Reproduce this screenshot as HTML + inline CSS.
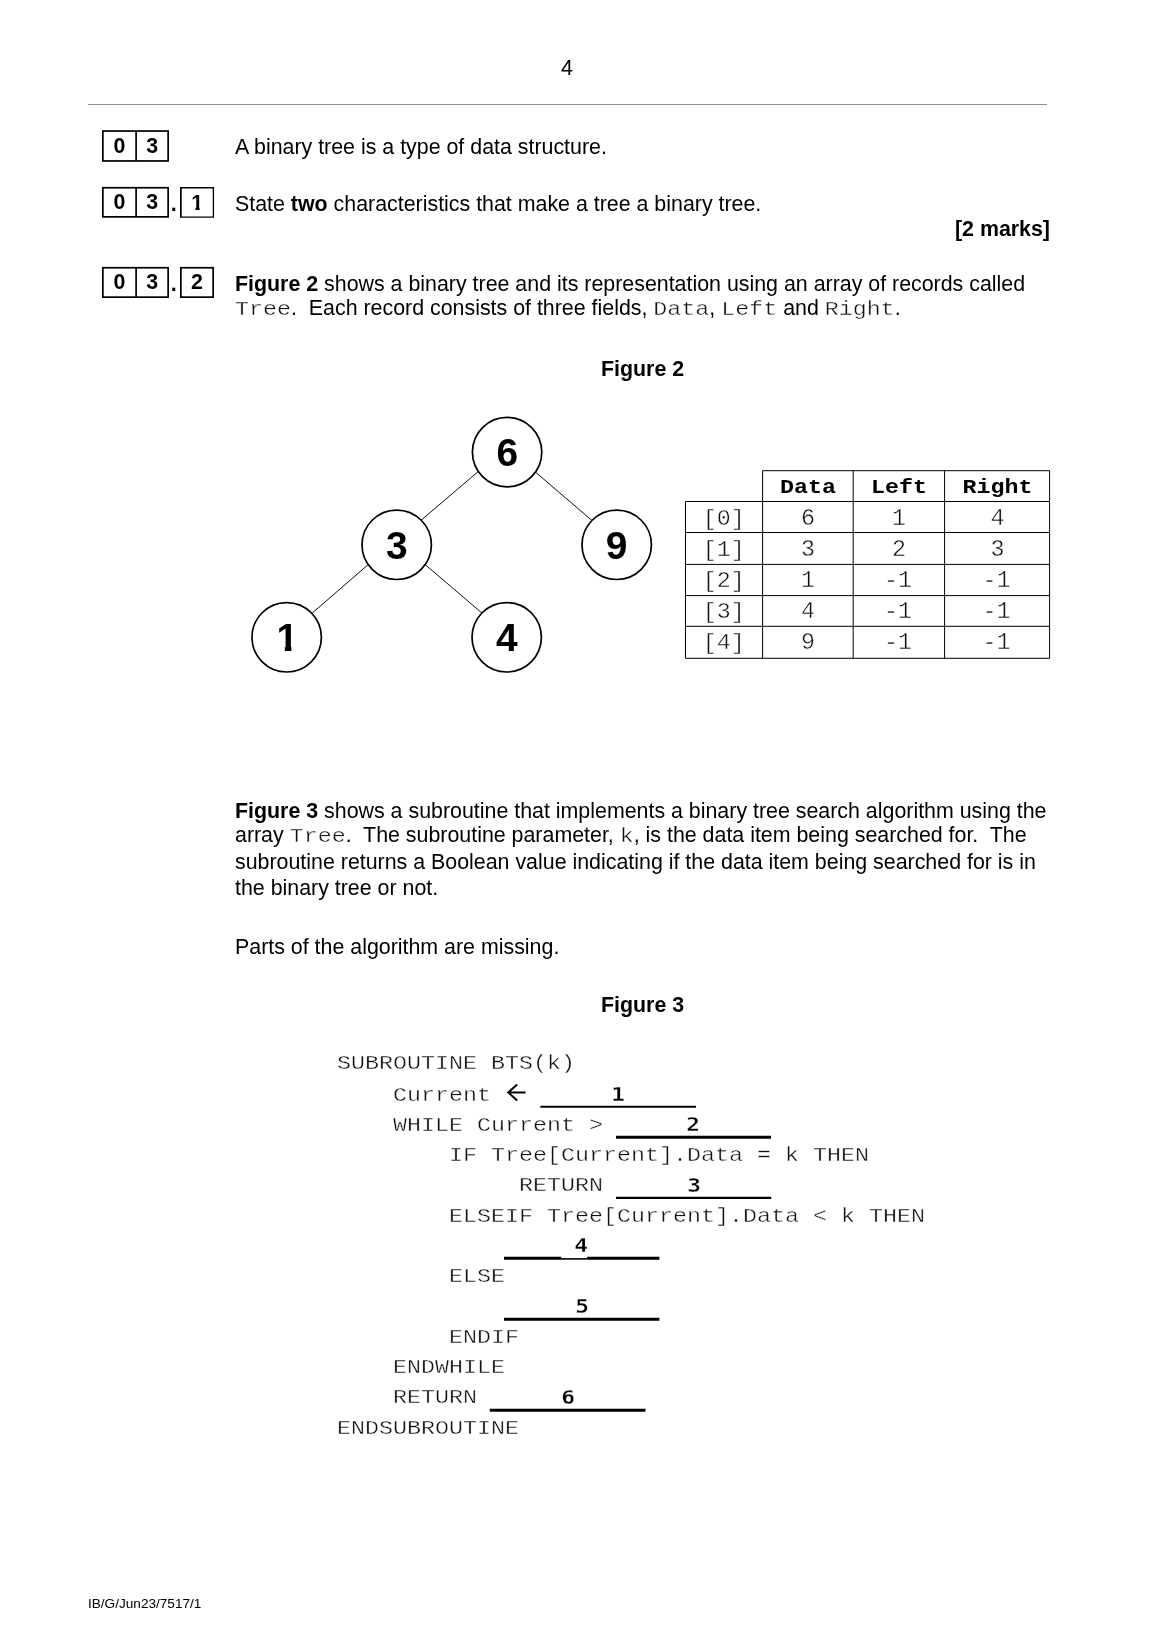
<!DOCTYPE html>
<html><head><meta charset="utf-8">
<style>
html,body{margin:0;padding:0;background:#fff;}
body{width:1158px;height:1638px;position:relative;overflow:hidden;font-family:"Liberation Sans",sans-serif;color:#000;}
.t{position:absolute;white-space:nowrap;font-size:21.39px;line-height:25px;}
.m{font-family:"Liberation Mono",monospace;font-size:23.33px;line-height:26.44px;color:#111;-webkit-text-stroke:.42px #fff;display:inline-block;transform:scaleY(.9);transform-origin:0 73.53%;vertical-align:baseline;}
.b{font-weight:bold;}
.box{position:absolute;font-weight:bold;font-size:21.39px;text-align:center;}
.box span{position:absolute;left:0;right:0;top:3.4px;line-height:25px;}
.cl{position:absolute;white-space:pre;font-family:"Liberation Mono",monospace;font-size:23.33px;line-height:26.44px;color:#111;-webkit-text-stroke:.42px #fff;transform:scaleY(.9);transform-origin:0 73.53%;}
.ul{position:absolute;height:0;border-top:2.6px solid #000;}
.n{position:absolute;font-family:"DejaVu Sans Mono","Liberation Mono",monospace;font-weight:bold;font-size:20.2px;line-height:20px;width:40px;text-align:center;transform:scaleX(1.13);-webkit-text-stroke:.32px #fff;}
.c{position:absolute;font-family:"Liberation Mono",monospace;font-size:23.33px;line-height:26.44px;color:#111;-webkit-text-stroke:.42px #fff;text-align:center;transform:scaleY(.9);transform-origin:0 73.53%;white-space:nowrap;}
.c.h{font-weight:bold;color:#000;-webkit-text-stroke:0;}
.c.u{transform:scaleY(.985);}
.c.i{transform:scaleY(.95);}
</style></head><body>
<div id="pg" style="position:absolute;left:0;top:0;width:1158px;height:1638px;will-change:transform;">
<div class="t" style="left:561px;top:56px;">4</div>
<div style="position:absolute;left:88px;top:104px;width:959px;height:1px;background:#8c8c8c;"></div>

<!-- question number boxes -->
<svg style="position:absolute;left:0;top:0;" width="260" height="320" viewBox="0 0 260 320">
<g stroke="#000" stroke-width="1.7" fill="none">
<rect x="102.85" y="131.05" width="65.3" height="29.9"/><line x1="136.1" y1="131" x2="136.1" y2="161"/>
<rect x="102.85" y="187.75" width="65.3" height="29.1"/><line x1="136.1" y1="187.7" x2="136.1" y2="216.9"/>
<path d="M213.4,187.75H180.85V217.1"/><path d="M213.4,186.9V217.1H180" stroke-width="1.35"/>
<rect x="102.85" y="267.75" width="65.3" height="29.4"/><line x1="136.1" y1="267.7" x2="136.1" y2="297.2"/>
<rect x="180.85" y="267.75" width="32.3" height="29.4"/>
</g>
<defs><clipPath id="k2"><rect x="185" y="190" width="25" height="17"/><rect x="195.4" y="206.5" width="4.2" height="5"/></clipPath></defs>
<text x="197.2" y="210.3" font-family="Liberation Sans, sans-serif" font-weight="bold" font-size="21.39" text-anchor="middle" clip-path="url(#k2)">1</text>
</svg>
<div class="box" style="left:102px;top:130.2px;width:34.9px;height:31.6px;"><span>0</span></div>
<div class="box" style="left:135.2px;top:130.2px;width:33.8px;height:31.6px;"><span>3</span></div>
<div class="t" style="left:235px;top:135px;">A binary tree is a type of data structure.</div>

<div class="box" style="left:102px;top:186.9px;width:34.9px;height:30.8px;"><span>0</span></div>
<div class="box" style="left:135.2px;top:186.9px;width:33.8px;height:30.8px;"><span>3</span></div>
<div class="t b" style="left:170.7px;top:192px;">.</div>
<div class="t" style="left:235px;top:192px;">State <b>two</b> characteristics that make a tree a binary tree.</div>
<div class="t b" style="right:108px;top:217px;">[2 marks]</div>

<div class="box" style="left:102px;top:266.9px;width:34.9px;height:31.1px;"><span>0</span></div>
<div class="box" style="left:135.2px;top:266.9px;width:33.8px;height:31.1px;"><span>3</span></div>
<div class="t b" style="left:170.7px;top:272px;">.</div>
<div class="box" style="left:180px;top:266.9px;width:34px;height:31.1px;"><span>2</span></div>
<div class="t" style="left:235px;top:272px;"><b>Figure 2</b> shows a binary tree and its representation using an array of records called</div>
<div class="t" style="left:235px;top:296px;"><span class="m">Tree</span>.&nbsp; Each record consists of three fields, <span class="m">Data</span>, <span class="m">Left</span> and <span class="m">Right</span>.</div>

<div class="t b" style="left:601px;top:357px;">Figure 2</div>

<!-- tree + table grid -->
<svg style="position:absolute;left:0;top:0;" width="1158" height="720" viewBox="0 0 1158 720">
<defs><clipPath id="k1"><rect x="270" y="615" width="40" height="31"/><rect x="284.8" y="645.5" width="6.6" height="8"/></clipPath></defs>
<g stroke="#000" stroke-width="0.95" fill="none">
<line x1="480" y1="470" x2="420" y2="521.2"/>
<line x1="534" y1="470.8" x2="594" y2="522.3"/>
<line x1="370" y1="563" x2="310" y2="615"/>
<line x1="424" y1="563.6" x2="484" y2="614.8"/>
</g>
<g stroke="#000" stroke-width="1.7" fill="#fff">
<circle cx="507.1" cy="452.1" r="34.7"/>
<circle cx="396.7" cy="544.8" r="34.7"/>
<circle cx="616.7" cy="544.8" r="34.7"/>
<circle cx="286.7" cy="637.3" r="34.7"/>
<circle cx="506.7" cy="637.3" r="34.7"/>
</g>
<g font-family="Liberation Sans, sans-serif" font-weight="bold" font-size="38.9" text-anchor="middle" fill="#000">
<text x="507.3" y="466">6</text>
<text x="396.9" y="558.7">3</text>
<text x="616.6" y="558.7">9</text>
<text x="287.3" y="651.2" clip-path="url(#k1)">1</text>
<text x="506.7" y="651.2">4</text>
</g>
<g stroke="#000" stroke-width="1" fill="none">
<path d="M762.6,470.7H1049.6 M685.5,501.5H1049.6 M685.5,532.5H1049.6 M685.5,564.4H1049.6 M685.5,595.6H1049.6 M685.5,626.3H1049.6 M685.5,658.3H1049.6"/>
<path d="M685.5,501.5V658.3 M762.6,470.7V658.3 M853.2,470.7V658.3 M944.6,470.7V658.3 M1049.6,470.7V658.3"/>
</g>
</svg>

<!-- table text -->
<div class="c h" style="left:763px;width:90px;top:473.9px;">Data</div>
<div class="c h" style="left:853px;width:92px;top:473.9px;">Left</div>
<div class="c h" style="left:945px;width:105px;top:473.9px;">Right</div>

<div class="c i" style="left:685.3px;width:77px;top:506.1px;">[0]</div><div class="c u" style="left:763px;width:90px;top:506.1px;">6</div><div class="c u" style="left:853px;width:92px;top:506.1px;">1</div><div class="c u" style="left:945px;width:105px;top:506.1px;">4</div>
<div class="c i" style="left:685.3px;width:77px;top:537.3px;">[1]</div><div class="c u" style="left:763px;width:90px;top:537.3px;">3</div><div class="c u" style="left:853px;width:92px;top:537.3px;">2</div><div class="c u" style="left:945px;width:105px;top:537.3px;">3</div>
<div class="c i" style="left:685.3px;width:77px;top:567.9px;">[2]</div><div class="c u" style="left:763px;width:90px;top:567.9px;">1</div><div class="c u" style="left:852px;width:92px;top:567.9px;">-1</div><div class="c u" style="left:944px;width:105px;top:567.9px;">-1</div>
<div class="c i" style="left:685.3px;width:77px;top:599.3px;">[3]</div><div class="c u" style="left:763px;width:90px;top:599.3px;">4</div><div class="c u" style="left:852px;width:92px;top:599.3px;">-1</div><div class="c u" style="left:944px;width:105px;top:599.3px;">-1</div>
<div class="c i" style="left:685.3px;width:77px;top:630.1px;">[4]</div><div class="c u" style="left:763px;width:90px;top:630.1px;">9</div><div class="c u" style="left:852px;width:92px;top:630.1px;">-1</div><div class="c u" style="left:944px;width:105px;top:630.1px;">-1</div>

<div class="t" style="left:235px;top:799px;"><b>Figure 3</b> shows a subroutine that implements a binary tree search algorithm using the</div>
<div class="t" style="left:235px;top:823px;">array <span class="m">Tree</span>.&nbsp; The subroutine parameter, <span class="m">k</span>, is the data item being searched for.&nbsp; The</div>
<div class="t" style="left:235px;top:850px;">subroutine returns a Boolean value indicating if the data item being searched for is in</div>
<div class="t" style="left:235px;top:876px;">the binary tree or not.</div>
<div class="t" style="left:235px;top:934.7px;">Parts of the algorithm are missing.</div>
<div class="t b" style="left:601px;top:993px;">Figure 3</div>

<!-- code: baseline = top + 19.44 -->
<div class="cl" style="left:337px;top:1049.6px;">SUBROUTINE BTS(k)</div>
<div class="cl" style="left:337px;top:1081.5px;">    Current</div>
<div class="cl" style="left:337px;top:1111.8px;">    WHILE Current &gt;</div>
<div class="cl" style="left:337px;top:1142.0px;">        IF Tree[Current].Data = k THEN</div>
<div class="cl" style="left:337px;top:1172.3px;">             RETURN</div>
<div class="cl" style="left:337px;top:1202.6px;">        ELSEIF Tree[Current].Data &lt; k THEN</div>
<div class="cl" style="left:337px;top:1263.1px;">        ELSE</div>
<div class="cl" style="left:337px;top:1323.7px;">        ENDIF</div>
<div class="cl" style="left:337px;top:1353.9px;">    ENDWHILE</div>
<div class="cl" style="left:337px;top:1384.2px;">    RETURN</div>
<div class="cl" style="left:337px;top:1414.5px;">ENDSUBROUTINE</div>

<!-- arrow -->
<svg style="position:absolute;left:500px;top:1078px;" width="34" height="30" viewBox="500 1078 34 30">
<path d="M525.6,1092.4H508.2 M517.2,1084.4L508.2,1092.4L517.2,1100.5" stroke="#000" stroke-width="2" fill="none" stroke-linejoin="miter"/>
</svg>

<!-- blanks -->
<svg style="position:absolute;left:0;top:1090px;" width="1158" height="340" viewBox="0 1090 1158 340">
<g stroke="#000" fill="none">
<line x1="540.4" y1="1106.7" x2="696" y2="1106.7" stroke-width="2.1"/>
<line x1="616" y1="1137.3" x2="771" y2="1137.3" stroke-width="3"/>
<line x1="616" y1="1197.9" x2="771.2" y2="1197.9" stroke-width="2.4"/>
<path d="M504,1258.2H561.2M587.1,1258.2H659.4" stroke-width="3"/><line x1="561" y1="1258.9" x2="587.3" y2="1258.9" stroke-width="1.6"/>
<line x1="504" y1="1319.3" x2="659.4" y2="1319.3" stroke-width="3"/>
<line x1="489.8" y1="1410.2" x2="645.5" y2="1410.2" stroke-width="2.9"/>
</g>
</svg>
<div class="n" style="left:598.1px;top:1084px;">1</div>
<div class="n" style="left:673.2px;top:1114.2px;">2</div>
<div class="n" style="left:673.7px;top:1174.9px;">3</div>
<div class="n" style="left:561.4px;top:1235.4px;">4</div>
<div class="n" style="left:561.5px;top:1296px;">5</div>
<div class="n" style="left:548px;top:1387px;">6</div>

<div class="t" style="left:88px;top:1591px;font-size:13.6px;">IB/G/Jun23/7517/1</div>
</div>
</body></html>
